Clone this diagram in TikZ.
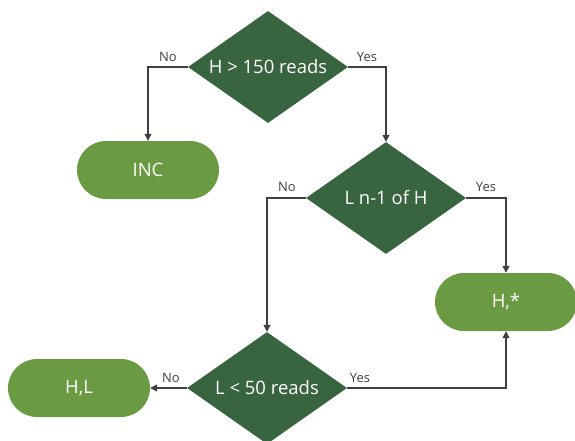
\documentclass[tikz,border=0pt]{standalone}
\usepackage{fontspec}
\setmainfont{Open Sans}
\usetikzlibrary{shapes.geometric,arrows.meta}
\definecolor{darkg}{RGB}{57,100,64}
\definecolor{lightg}{RGB}{106,155,67}
\definecolor{linec}{RGB}{64,64,64}
\tikzset{
  decision/.style={diamond, fill=darkg, text=white, inner sep=0pt, aspect=1.43,
    minimum width=160pt, minimum height=112pt, font=\fontsize{18.5}{22}\selectfont},
  terminal/.style={rectangle, rounded corners=29pt, fill=lightg, text=white,
    minimum width=142pt, minimum height=58pt, font=\fontsize{18.5}{22}\selectfont},
  conn/.style={draw=linec, line width=1.2pt, -{Triangle[length=7pt,width=7pt]}},
  lbl/.style={text=linec, font=\fontsize{13}{15}\selectfont, inner sep=0pt}
}
\begin{document}
\begin{tikzpicture}[x=1pt,y=-1pt]
\useasboundingbox (0,0) rectangle (575,441);
\node[decision] (d1) at (268,67) {H > 150 reads};
\node[terminal] (inc) at (148,170) {INC};
\node[decision] (d2) at (386,198) {L n-1 of H};
\node[terminal] (hs) at (506,302) {H,*};
\node[decision] (d3) at (267,388) {L < 50 reads};
\node[terminal] (hl) at (79,388) {H,L};

\draw[conn] (d1.west) -| (inc.north);
\draw[conn] (d1.east) -| (d2.north);
\draw[conn] (d2.west) -| (d3.north);
\draw[conn] (d2.east) -| (hs.north);
\draw[conn] (d3.west) -- (hl.east);
\draw[conn] (d3.east) -| (hs.south);

\node[lbl] (l1) at (168,57) {No};
\node[lbl] (l2) at (367,57) {Yes};
\node[lbl] (l3) at (287,187) {No};
\node[lbl] (l4) at (486,187) {Yes};
\node[lbl] (l5) at (171,378) {No};
\node[lbl] (l6) at (360,378) {Yes};
\end{tikzpicture}
\end{document}
